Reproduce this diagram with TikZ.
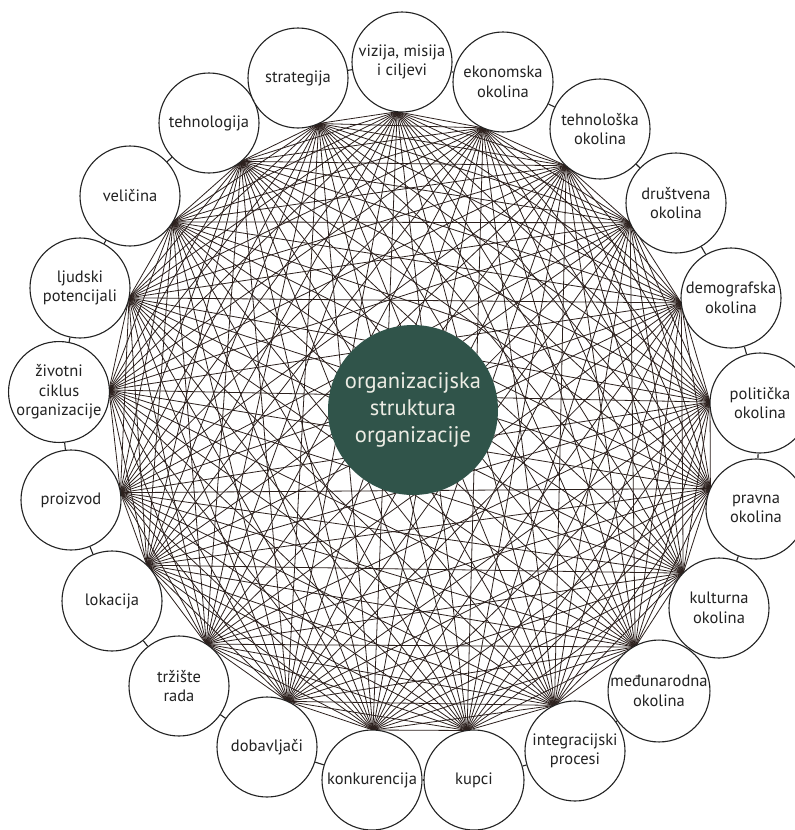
\documentclass[tikz,border=0pt]{standalone}
\usepackage{fontspec}
\setmainfont{PT Sans}
\usetikzlibrary{calc}
\definecolor{webc}{HTML}{2C201D}
\definecolor{hubgreen}{HTML}{30544A}
\definecolor{hubtext}{HTML}{ECECE4}
\definecolor{inkc}{HTML}{222222}
\begin{document}
\begin{tikzpicture}[x=1pt,y=-1pt,
  outer/.style={circle,draw=inkc,line width=1.1pt,fill=white,minimum size=100pt,inner sep=0pt,align=center,
    font=\fontsize{16.5}{19.5}\selectfont,text=inkc},
  web/.style={draw=webc,line width=0.8pt},
  tick/.style={draw=inkc,line width=1.1pt},
  hub/.style={circle,fill=hubgreen,minimum size=170pt,inner sep=0pt,align=center,text=hubtext,
    font=\fontsize{22.5}{27}\selectfont}]
\useasboundingbox (0,0) rectangle (795,830);
\fill[white] (0,0) rectangle (795,830);
% circle centres and inner vertices
\foreach \i/\px/\py/\mx/\my in {
  0/402/62/397/113, 1/503/82/483/128, 2/600/129/565/167, 3/676/203/632/222,
  4/731/298/680/303, 5/760/403/707/402, 6/756/509/707/487, 7/719/608/682/572,
  8/659/691/633/643, 9/575/751/553/702, 10/474/780/467/730, 11/372/780/373/728,
  12/267/747/288/700, 13/179/686/207/643, 14/112/601/147/565, 15/71/500/118/493,
  16/59/392/108/390, 17/80/288/130/298, 18/130/196/173/222, 19/209/123/240/160,
  20/298/78/318/122}{
  \coordinate (p\i) at (\px,\py);
  \coordinate (v\i) at ($(\px,\py)!50pt!(\mx,\my)$);
}
% complete graph between the vertices
\foreach \i in {0,...,19}{
  \pgfmathtruncatemacro\jstart{\i+1}
  \foreach \j in {\jstart,...,20}{
    \draw[web] (v\i) -- (v\j);
  }
}
% centre
\node[hub] (hubc) at (413,410) {organizacijska\\struktura\\organizacije};
% outer circles
\node[outer] (c0) at (p0) {vizija, misija\\i ciljevi};
\node[outer] (c1) at (p1) {ekonomska\\okolina};
\node[outer] (c2) at (p2) {tehnološka\\okolina};
\node[outer] (c3) at (p3) {društvena\\okolina};
\node[outer] (c4) at (p4) {demografska\\okolina};
\node[outer] (c5) at (p5) {politička\\okolina};
\node[outer] (c6) at (p6) {pravna\\okolina};
\node[outer] (c7) at (p7) {kulturna\\okolina};
\node[outer] (c8) at (p8) {međunarodna\\okolina};
\node[outer] (c9) at (p9) {integracijski\\procesi};
\node[outer] (c10) at (p10) {kupci};
\node[outer] (c11) at (p11) {konkurencija};
\node[outer] (c12) at (p12) {dobavljači};
\node[outer] (c13) at (p13) {tržište\\rada};
\node[outer] (c14) at (p14) {lokacija};
\node[outer] (c15) at (p15) {proizvod};
\node[outer] (c16) at (p16) {životni\\ciklus\\organizacije};
\node[outer] (c17) at (p17) {ljudski\\potencijali};
\node[outer] (c18) at (p18) {veličina};
\node[outer] (c19) at (p19) {tehnologija};
\node[outer] (c20) at (p20) {strategija};
% short ticks between neighbouring circles
\foreach \i [evaluate=\i as \j using {int(mod(\i+1,21))}] in {0,...,20}{
  \draw[tick] (c\i) -- (c\j);
}
\end{tikzpicture}
\end{document}
